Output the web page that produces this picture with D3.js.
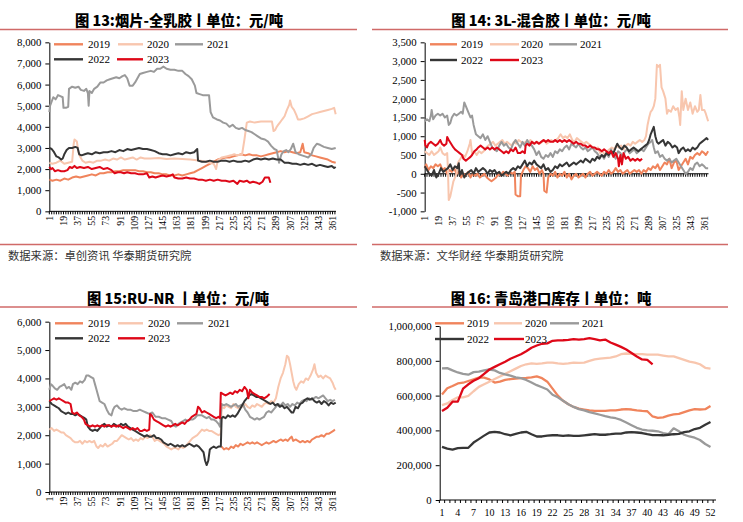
<!DOCTYPE html>
<html><head><meta charset="utf-8">
<script src="https://cdn.jsdelivr.net/npm/d3@7"></script>
<style>
html,body{margin:0;padding:0;background:#fff;}
svg{display:block;}
</style></head><body>
<svg id="c" width="743" height="522"></svg>
<script>
const years = ["2019","2020","2021","2022","2023"];
const colors = {"2019":"#f0845c","2020":"#f8c6ae","2021":"#9a9a9a","2022":"#363636","2023":"#de0818"};

// ---------- Panel 13: 烟片-全乳胶 (day, 元/吨) ----------
const p13_2019 = [[1,1500],[5,1450],[10,1500],[15,1450],[20,1550],[25,1500],[30,1600],[35,1650],[40,1600],[45,1650],[50,1700],[55,1750],[60,1700],[65,1800],[70,1800],[75,1850],[80,1850],[85,1900],[90,1900],[95,1950],[100,1950],[105,1950],[110,1950],[115,1900],[120,1900],[125,1850],[130,1850],[135,1800],[140,1800],[145,1750],[150,1750],[155,1700],[160,1700],[165,1750],[170,1700],[175,1750],[180,1800],[185,1850],[190,1950],[195,2050],[200,2150],[205,2250],[210,2350],[215,2450],[220,2500],[225,2550],[230,2550],[235,2600],[240,2650],[245,2700],[250,2650],[255,2700],[260,2650],[265,2650],[270,2600],[275,2650],[280,2700],[285,2750],[290,2800],[295,2850],[300,2800],[305,2850],[310,2800],[315,2750],[320,2800],[323,3200],[325,2800],[330,2750],[335,2650],[340,2600],[345,2550],[350,2500],[355,2450],[360,2350],[365,2300]];
const p13_2020 = [[1,2300],[5,2250],[10,2300],[15,2400],[20,2250],[25,2300],[30,2350],[32,3200],[33,3400],[36,3300],[38,2800],[40,2600],[43,2400],[47,2300],[52,2350],[57,2300],[62,2400],[67,2400],[72,2450],[77,2400],[82,2500],[87,2450],[92,2550],[97,2450],[102,2500],[107,2550],[112,2450],[117,2550],[122,2500],[130,2500],[140,2520],[150,2480],[160,2500],[170,2480],[180,2450],[188,2420],[195,2380],[200,2350],[205,2300],[210,2250],[213,2000],[215,2400],[220,2550],[226,2600],[232,2650],[236,2700],[240,2650],[246,2700],[249,3400],[252,4200],[256,4250],[262,4200],[270,4250],[278,4250],[284,4250],[286,3800],[288,3850],[290,4000],[292,4100],[294,4200],[296,4300],[298,4400],[300,4500],[303,4800],[306,5050],[307,5250],[309,4950],[312,4800],[315,4550],[317,4350],[320,4350],[325,4400],[330,4500],[335,4600],[340,4650],[345,4700],[350,4750],[355,4800],[360,4850],[363,4900],[365,4600]];
const p13_2021 = [[1,4700],[2,5000],[4,5200],[6,5400],[9,5300],[12,5500],[15,5450],[18,5400],[19,4900],[22,4900],[25,4950],[26,5800],[30,5900],[34,5850],[38,5900],[41,5750],[45,5700],[48,5800],[50,5600],[51,5000],[52,5700],[55,5600],[58,5800],[62,5900],[66,6100],[70,6100],[74,6200],[78,6250],[82,6300],[86,6350],[90,6300],[94,6400],[97,6450],[100,6300],[103,5950],[107,5950],[110,6100],[113,6300],[116,6500],[120,6550],[125,6600],[130,6650],[134,6600],[138,6750],[142,6750],[146,6850],[150,6750],[155,6700],[160,6700],[165,6650],[170,6650],[174,6500],[178,6400],[182,6250],[186,5950],[188,5600],[192,5550],[196,5500],[200,5500],[204,5500],[206,4700],[209,4450],[214,4350],[218,4300],[222,4200],[226,4150],[230,4000],[234,4100],[238,3950],[242,3900],[246,3950],[250,3850],[254,3800],[258,3750],[262,3650],[266,3550],[270,3450],[275,3400],[279,3300],[283,3100],[287,2950],[290,2900],[293,2300],[296,2700],[299,2850],[302,2900],[305,2800],[308,2950],[311,3200],[314,2800],[318,2700],[322,2650],[326,2600],[330,2550],[334,2700],[337,3000],[341,3200],[345,3150],[350,3050],[355,3000],[360,2950],[365,3000]];
const p13_2022 = [[1,3000],[4,2950],[7,2800],[10,2600],[13,2550],[16,2450],[18,2500],[20,2700],[23,2900],[26,3000],[30,3000],[34,3050],[37,3000],[39,2700],[42,2650],[46,2700],[50,2750],[55,2700],[60,2800],[65,2750],[70,2800],[75,2800],[80,2850],[85,2800],[90,2900],[95,2850],[100,2950],[105,2900],[110,2950],[115,3000],[120,2950],[125,2950],[130,2900],[135,2850],[140,2750],[145,2700],[150,2700],[155,2650],[160,2700],[165,2750],[170,2700],[175,2800],[180,2750],[185,2800],[189,2950],[190,2400],[195,2350],[200,2350],[205,2400],[210,2350],[215,2350],[220,2400],[225,2400],[230,2350],[235,2400],[240,2350],[245,2350],[250,2400],[255,2350],[260,2450],[265,2500],[270,2450],[275,2500],[280,2450],[285,2500],[290,2450],[295,2450],[300,2300],[305,2300],[310,2250],[315,2250],[320,2200],[325,2250],[330,2200],[335,2250],[340,2150],[345,2200],[350,2150],[355,2100],[360,2150],[363,2050],[365,2100]];
const p13_2023 = [[1,2100],[3,2000],[5,2050],[8,1900],[12,1950],[16,1900],[20,1900],[24,1950],[27,2100],[30,2050],[33,2150],[36,2050],[40,2100],[45,2050],[50,2100],[55,2000],[60,2050],[65,2100],[70,2000],[75,2050],[80,1950],[84,1800],[88,1850],[92,1850],[96,1800],[100,1850],[105,1800],[110,1800],[115,1750],[120,1750],[125,1800],[128,1600],[132,1650],[136,1600],[140,1650],[145,1700],[150,1650],[155,1700],[158,1750],[160,1600],[165,1550],[170,1550],[175,1600],[180,1550],[185,1550],[190,1500],[195,1500],[200,1450],[205,1500],[210,1450],[215,1500],[220,1450],[225,1450],[230,1400],[235,1450],[240,1300],[243,1450],[248,1400],[252,1450],[256,1350],[260,1400],[265,1350],[268,1300],[272,1400],[275,1600],[280,1600],[282,1350]];

// ---------- Panel 14: 3L-混合胶 ----------
const p14_2019 = [[1,150],[3,250],[6,100],[9,200],[12,150],[15,250],[18,200],[21,250],[24,100],[27,150],[30,0],[33,100],[36,50],[39,150],[42,0],[45,50],[48,-100],[51,0],[54,-50],[57,50],[60,-100],[63,0],[66,-50],[69,0],[72,-100],[75,-50],[78,0],[81,-100],[84,-150],[87,-200],[90,-150],[93,-100],[96,0],[99,-50],[102,50],[105,0],[108,-50],[111,50],[114,0],[117,50],[118,-550],[121,-600],[124,-600],[125,-50],[128,100],[131,200],[134,150],[137,50],[140,200],[143,100],[146,150],[149,0],[152,100],[154,0],[155,-450],[158,-500],[160,-100],[163,0],[166,-50],[169,50],[172,-100],[175,0],[178,-50],[181,50],[184,-100],[187,0],[190,-150],[193,-50],[196,0],[199,-100],[202,-50],[205,0],[208,-100],[211,0],[214,50],[217,-50],[220,0],[223,50],[226,0],[229,-50],[232,50],[235,0],[238,100],[241,0],[244,50],[247,150],[250,50],[253,100],[256,0],[259,50],[262,100],[265,0],[268,50],[271,100],[274,50],[277,100],[280,0],[283,100],[286,50],[289,150],[292,100],[295,200],[298,150],[301,250],[304,100],[307,200],[310,300],[313,250],[316,400],[319,150],[322,300],[325,350],[328,100],[331,200],[334,300],[337,400],[340,250],[343,450],[346,400],[349,500],[352,550],[355,500],[358,600],[361,550],[363,500],[366,600]];
const p14_2020 = [[1,600],[4,550],[7,500],[10,600],[13,500],[16,550],[19,600],[21,700],[24,550],[27,500],[30,550],[31,100],[32,-700],[34,-600],[36,-400],[38,-200],[40,-100],[42,0],[44,300],[47,400],[50,500],[53,450],[56,600],[59,800],[60,900],[62,550],[65,600],[68,500],[71,600],[74,550],[77,600],[80,700],[83,750],[86,800],[89,850],[92,750],[95,800],[98,850],[101,900],[104,800],[107,850],[110,800],[113,750],[116,850],[119,800],[122,900],[125,850],[128,800],[131,850],[134,800],[137,900],[140,850],[143,800],[146,850],[149,800],[152,850],[155,900],[158,800],[161,850],[164,900],[167,850],[170,900],[173,950],[176,1050],[179,950],[182,1000],[185,950],[188,1050],[191,900],[194,850],[197,950],[200,900],[203,850],[206,800],[209,850],[212,800],[215,750],[218,700],[221,650],[224,700],[227,550],[230,600],[233,500],[236,600],[239,650],[242,700],[245,650],[248,750],[251,700],[254,750],[257,650],[260,750],[263,800],[266,750],[269,850],[272,800],[275,850],[278,900],[281,850],[284,900],[286,1000],[288,1300],[290,1500],[292,1650],[294,1700],[296,1800],[298,2000],[300,2900],[302,2850],[304,2900],[306,2300],[308,2200],[311,2000],[313,1600],[315,1700],[318,1650],[321,1800],[324,1700],[327,1750],[329,1500],[330,1300],[332,2200],[334,1700],[337,2000],[340,1700],[343,1900],[346,1600],[349,1800],[352,1650],[354,1700],[356,2100],[358,1700],[361,1700],[363,1600],[366,1400]];
const p14_2021 = [[1,1400],[4,1450],[7,1400],[9,1550],[10,1700],[12,1450],[15,1550],[18,1600],[21,1550],[24,1600],[27,1500],[30,1550],[32,1300],[34,1350],[36,1500],[39,1600],[42,1550],[45,1600],[48,1650],[50,1600],[52,1900],[54,1800],[57,1650],[60,1500],[62,1550],[64,1300],[67,1050],[70,1000],[73,950],[76,1050],[79,900],[82,1000],[85,850],[88,700],[91,650],[94,600],[97,750],[100,850],[103,750],[106,800],[109,700],[112,650],[115,800],[118,900],[121,800],[124,700],[127,850],[130,750],[133,900],[136,800],[139,750],[142,650],[145,500],[148,600],[151,450],[154,400],[157,500],[160,450],[163,550],[166,450],[169,600],[172,550],[175,650],[178,600],[181,700],[184,750],[187,650],[190,800],[193,750],[196,700],[199,800],[202,700],[205,650],[208,700],[211,600],[214,650],[217,700],[220,600],[223,550],[226,450],[229,500],[232,400],[235,550],[238,450],[241,650],[244,500],[247,400],[250,600],[253,550],[256,450],[259,600],[262,650],[265,550],[268,600],[271,650],[274,550],[277,600],[280,650],[283,600],[286,700],[289,800],[292,850],[294,900],[296,700],[298,550],[301,600],[304,450],[307,500],[310,400],[313,350],[316,400],[319,300],[322,350],[325,400],[328,300],[331,200],[334,100],[337,0],[340,50],[343,150],[346,100],[349,250],[352,300],[355,200],[358,250],[361,200],[363,150],[366,150]];
const p14_2022 = [[1,200],[4,100],[7,0],[10,-50],[13,100],[16,-100],[19,0],[22,150],[25,50],[28,100],[31,150],[34,250],[37,100],[40,200],[43,150],[45,280],[46,-50],[49,100],[52,-100],[55,0],[58,50],[61,100],[64,0],[67,150],[70,50],[73,100],[76,150],[79,100],[82,0],[85,100],[88,50],[91,100],[94,0],[97,50],[100,-50],[103,0],[106,50],[109,0],[112,100],[115,150],[118,100],[121,200],[124,150],[127,250],[130,350],[133,200],[136,300],[139,250],[142,350],[145,250],[148,200],[151,150],[154,250],[157,100],[160,150],[163,50],[166,100],[169,200],[172,150],[175,250],[178,200],[181,250],[184,300],[187,200],[190,250],[193,300],[196,250],[199,300],[202,350],[205,300],[208,400],[211,350],[214,300],[217,400],[220,350],[223,450],[226,400],[229,500],[232,450],[235,550],[238,500],[241,600],[244,550],[247,700],[249,800],[252,700],[255,650],[258,750],[261,700],[264,600],[267,650],[270,700],[273,650],[276,600],[279,650],[282,700],[285,750],[288,800],[290,900],[292,1050],[294,1150],[296,1250],[298,1000],[300,850],[302,800],[305,850],[308,900],[311,750],[314,850],[317,800],[320,700],[323,750],[326,700],[328,550],[331,650],[334,700],[337,600],[340,650],[343,600],[346,700],[349,650],[352,700],[355,800],[358,850],[361,900],[364,950],[366,900]];
const p14_2023 = [[1,900],[2,750],[4,700],[6,800],[9,850],[12,800],[15,750],[18,800],[21,900],[23,800],[26,750],[29,800],[30,980],[32,900],[35,800],[38,700],[40,650],[43,600],[46,550],[49,500],[51,400],[54,350],[57,400],[60,450],[62,500],[65,600],[68,650],[70,700],[73,750],[76,700],[79,650],[82,700],[85,650],[88,700],[91,650],[94,700],[97,650],[100,600],[103,550],[106,600],[109,550],[112,650],[115,600],[118,700],[121,550],[124,550],[127,600],[130,550],[131,750],[133,800],[136,750],[139,850],[142,800],[145,850],[148,800],[151,850],[154,900],[157,850],[160,900],[163,850],[166,850],[169,900],[172,850],[175,900],[178,850],[181,900],[184,850],[187,900],[190,850],[193,800],[196,850],[199,800],[202,800],[205,750],[208,750],[211,700],[214,750],[217,700],[220,700],[223,650],[226,650],[229,600],[232,650],[235,600],[238,550],[241,600],[244,450],[247,550],[250,400],[251,200],[253,500],[255,250],[257,550],[260,400],[263,450],[266,350],[269,400],[272,350],[275,400],[278,350],[281,400]];

// ---------- Panel 15: RU-NR ----------
const p15_2019 = [[220,1600],[223,1500],[226,1550],[229,1500],[232,1600],[235,1550],[238,1650],[241,1600],[244,1700],[247,1650],[250,1700],[253,1750],[256,1700],[259,1750],[262,1700],[265,1750],[268,1700],[271,1650],[274,1700],[277,1750],[280,1700],[283,1750],[286,1800],[289,1750],[292,1800],[295,1850],[298,1800],[301,1850],[304,1800],[307,1900],[309,1950],[311,1800],[314,1850],[317,1800],[320,1750],[323,1800],[326,1750],[329,1800],[332,1750],[335,1850],[338,1900],[341,1950],[344,1950],[347,2000],[350,1950],[353,2050],[356,2050],[359,2100],[362,2150],[364,2200]];
const p15_2020 = [[1,2200],[4,2250],[7,2150],[10,2200],[13,2150],[16,2100],[19,2100],[22,2000],[25,1950],[28,1900],[31,1800],[34,1750],[37,1750],[40,1800],[43,1700],[46,1800],[49,1750],[52,1800],[55,1750],[58,1800],[61,1600],[63,1550],[66,1650],[69,1600],[72,1700],[75,1600],[78,1650],[81,1700],[84,1800],[87,1800],[90,1900],[93,2000],[96,1950],[99,1900],[102,1850],[105,1900],[108,1800],[111,1850],[114,1800],[117,1900],[120,1850],[123,1950],[126,1900],[129,2000],[132,1950],[135,1800],[138,1850],[141,1800],[144,1750],[147,1700],[150,1600],[153,1550],[156,1500],[159,1550],[162,1550],[165,1500],[168,1600],[171,1550],[174,1600],[177,1700],[180,1800],[183,1900],[186,1950],[189,2000],[192,2100],[195,2200],[198,2150],[201,2200],[204,2150],[207,2150],[210,2100],[213,2050],[216,2000],[219,2050],[220,3000],[223,2950],[226,3050],[229,3000],[232,2950],[235,3100],[238,3000],[241,2950],[244,3050],[247,3000],[250,3100],[253,3000],[256,2950],[259,3050],[262,3000],[265,3100],[268,3050],[271,3000],[274,3100],[277,3150],[280,3100],[283,3200],[286,3150],[289,3300],[292,3700],[295,4000],[298,4200],[301,4500],[303,4800],[305,4750],[307,4500],[309,4200],[311,3900],[313,3700],[315,3600],[318,3800],[321,3900],[324,3850],[327,4000],[330,3950],[333,4100],[336,4300],[338,4500],[340,4200],[343,4050],[346,4100],[349,4000],[352,4100],[355,4050],[358,4000],[361,3850],[363,3700],[365,3600]];
const p15_2021 = [[1,3600],[3,3800],[5,3750],[8,3650],[11,3600],[14,3700],[17,3750],[20,3800],[23,3650],[26,3700],[29,3600],[31,3800],[34,3850],[37,3800],[40,3900],[43,3850],[46,3950],[48,4100],[51,4100],[54,4050],[57,4000],[59,3800],[61,3600],[63,3400],[65,3200],[68,3150],[71,3100],[74,2900],[77,2750],[80,2700],[82,2900],[84,3000],[87,3050],[90,2950],[93,2900],[96,2950],[100,2900],[104,2900],[108,2850],[112,2850],[116,2900],[120,2850],[124,2800],[128,2750],[132,2800],[136,2650],[140,2650],[144,2600],[148,2600],[152,2550],[156,2500],[159,2350],[162,2300],[165,2400],[168,2450],[171,2500],[174,2550],[177,2500],[180,2550],[183,2550],[186,2600],[189,2700],[192,2700],[195,2700],[198,2650],[201,2600],[204,2650],[207,2550],[210,2550],[213,2500],[216,2400],[218,2300],[220,3100],[223,3050],[226,3100],[229,3050],[232,3000],[235,3050],[238,3100],[241,3000],[244,3050],[247,3100],[250,2900],[253,2800],[256,2650],[259,2600],[262,2550],[265,2600],[268,2550],[271,2600],[274,2650],[277,2800],[280,2850],[283,2800],[286,2900],[289,3000],[292,3100],[295,3050],[298,3150],[301,3050],[304,3100],[307,3000],[310,3100],[313,3050],[316,3150],[319,3100],[322,3200],[325,3250],[328,3200],[331,3300],[334,3250],[337,3300],[340,3350],[343,3300],[346,3350],[349,3400],[352,3300],[355,3200],[358,3250],[361,3200],[364,3250]];
const p15_2022 = [[1,3200],[4,3100],[7,3050],[10,3000],[13,2950],[16,2850],[19,2800],[22,2750],[25,2800],[28,2750],[31,2750],[34,2700],[37,2750],[40,2700],[43,2650],[46,2600],[48,2550],[50,2300],[53,2200],[56,2150],[59,2200],[62,2150],[65,2250],[68,2350],[71,2400],[74,2300],[77,2350],[80,2300],[83,2400],[86,2350],[89,2300],[92,2400],[95,2350],[98,2400],[101,2300],[104,2250],[107,2200],[110,2150],[113,2100],[116,2050],[119,2000],[122,1950],[125,2000],[128,1950],[131,1950],[134,2000],[137,1900],[140,1900],[143,1850],[146,1750],[149,1700],[152,1650],[155,1700],[158,1650],[161,1600],[164,1650],[167,1600],[170,1650],[173,1600],[176,1650],[179,1700],[182,1650],[185,1600],[188,1650],[191,1600],[194,1500],[197,1400],[199,1100],[201,950],[203,1100],[205,1500],[207,1550],[210,1600],[213,1550],[216,1600],[219,1600],[220,2600],[222,2650],[225,2600],[228,2700],[231,2650],[234,2700],[237,2650],[240,2750],[243,2900],[246,3050],[249,3200],[252,3300],[255,3400],[258,3450],[261,3400],[264,3350],[267,3350],[270,3300],[273,3250],[276,3200],[279,3150],[282,3100],[285,3150],[288,3050],[291,3100],[294,3000],[297,3050],[300,2950],[303,3000],[306,2900],[309,2800],[311,2800],[314,3000],[317,2950],[320,3100],[323,3150],[326,3250],[329,3300],[332,3250],[335,3300],[338,3200],[341,3150],[344,3200],[347,3100],[350,3200],[353,3150],[356,3050],[359,3150],[362,3100],[365,3150]];
const p15_2023 = [[1,3200],[4,3250],[7,3300],[10,3250],[13,3300],[16,3250],[19,3200],[22,3150],[25,3150],[28,3100],[30,2800],[33,2750],[36,2800],[39,2700],[42,2650],[45,2550],[47,2400],[50,2350],[53,2300],[56,2350],[59,2300],[62,2350],[65,2300],[68,2350],[71,2300],[74,2350],[77,2350],[80,2300],[83,2350],[86,2300],[89,2350],[92,2300],[95,2250],[98,2300],[101,2250],[104,2200],[107,2250],[110,2200],[113,2250],[116,2150],[119,2150],[122,2200],[125,2150],[128,2200],[129,2750],[131,2700],[134,2550],[137,2500],[140,2450],[143,2400],[146,2350],[149,2300],[152,2350],[155,2300],[158,2350],[161,2400],[164,2350],[167,2400],[170,2450],[173,2400],[176,2500],[179,2550],[182,2650],[185,2700],[188,2750],[190,3000],[192,2950],[195,2800],[198,2850],[201,2800],[204,2750],[207,2700],[210,2650],[213,2600],[216,2650],[218,2600],[219,3500],[222,3450],[225,3400],[228,3450],[231,3500],[234,3450],[237,3550],[240,3500],[243,3600],[246,3550],[249,3700],[252,3600],[254,3300],[256,3600],[259,3500],[262,3450],[265,3400],[268,3350],[271,3350],[274,3300],[277,3350],[279,3400],[281,3450]];

// ---------- Panel 16: 青岛港口库存 (week, 吨) ----------
const weeks = d3.range(1, 53);
const weekLabels = [1,4,7,10,13,16,19,22,25,28,31,34,37,40,43,46,49,52];
const p16_2019 = [607000,642000,655000,670000,674000,684000,693000,703000,703000,693000,675000,680000,690000,695000,698000,700000,702000,705000,710000,700000,680000,640000,600000,570000,550000,535000,525000,520000,515000,512000,512000,512000,515000,515000,520000,522000,520000,515000,512000,510000,480000,472000,475000,485000,492000,495000,505000,515000,522000,520000,522000,540000];
const p16_2020 = [545000,555000,575000,590000,590000,598000,625000,650000,665000,680000,695000,710000,725000,740000,755000,770000,780000,785000,782000,785000,790000,790000,785000,782000,785000,790000,788000,790000,800000,808000,812000,815000,818000,825000,838000,842000,840000,838000,838000,835000,835000,835000,830000,825000,825000,815000,805000,795000,790000,780000,760000,755000];
const p16_2021 = [757000,758000,745000,733000,725000,720000,735000,738000,745000,750000,745000,730000,722000,715000,705000,700000,690000,675000,660000,648000,635000,605000,590000,570000,550000,535000,522000,515000,505000,498000,490000,482000,475000,470000,460000,445000,430000,415000,405000,400000,398000,395000,385000,378000,412000,395000,375000,365000,358000,345000,322000,305000];
const p16_2022 = [305000,295000,290000,298000,300000,300000,330000,350000,370000,388000,392000,388000,378000,372000,380000,388000,392000,378000,365000,365000,370000,372000,372000,368000,372000,368000,368000,372000,375000,378000,375000,375000,378000,382000,382000,388000,390000,388000,385000,378000,373000,373000,372000,375000,378000,380000,390000,395000,408000,415000,432000,448000];
const p16_2023 = [512000,530000,565000,565000,640000,665000,685000,700000,725000,750000,765000,780000,795000,812000,825000,838000,855000,875000,888000,898000,900000,915000,917000,918000,920000,925000,922000,925000,930000,925000,918000,922000,905000,893000,880000,865000,845000,825000,808000,805000,780000];

const dayTicks = d3.range(1, 366, 3);
const dayLabels = d3.range(1, 362, 18);
const yT13 = d3.range(0, 8001, 1000);
const yT14 = d3.range(-1000, 3501, 500);
const yT15 = d3.range(0, 6001, 1000);
const yT16 = d3.range(0, 1000001, 200000);

const fmt = d3.formatLocale({decimal:".",thousands:",",grouping:[3],currency:["",""],minus:"-"}).format(",");
const svg = d3.select("#c");
const SERIF = '"Liberation Serif","Times New Roman",serif';
const CJK = '"Noto Sans CJK SC","Noto Sans",sans-serif';

function drawPanel(c) {
  const g = svg.append("g");
  g.append("text").attr("x", c.titleX).attr("y", c.titleY).attr("text-anchor","middle")
    .attr("font-family", CJK).attr("font-weight", 900).attr("font-size", 14.3).attr("fill","#000").text(c.title);
  g.append("line").attr("x1", c.ruleX[0]).attr("x2", c.ruleX[1]).attr("y1", c.ruleY).attr("y2", c.ruleY)
    .attr("stroke", "#d06a68").attr("stroke-width", 1.3);
  if (c.bottomRuleY) {
    g.append("line").attr("x1", c.ruleX[0]).attr("x2", c.ruleX[1]).attr("y1", c.bottomRuleY).attr("y2", c.bottomRuleY)
      .attr("stroke", "#d06a68").attr("stroke-width", 1.3);
    g.append("text").attr("x", c.ruleX[0] + 8).attr("y", c.bottomRuleY + 15).attr("font-family", CJK)
      .attr("font-size", 11.3).attr("fill", "#333").text(c.source);
  }
  const x = d3.scaleLinear().domain(c.xDomain).range(c.xRange);
  const y = d3.scaleLinear().domain(c.yDomain).range(c.yRange);

  const ya = g.append("g").attr("transform", `translate(${c.axisX},0)`)
    .call(d3.axisLeft(y).tickValues(c.yTicks).tickSize(4).tickSizeOuter(0).tickPadding(4).tickFormat(fmt));
  ya.selectAll("text").attr("font-family", SERIF).attr("font-size", c.yFont).attr("fill", "#000");
  ya.selectAll("line,path").attr("stroke", "#000");

  const y0 = y(c.xAxisAt);
  g.append("line").attr("x1", c.axisX).attr("x2", c.axisEnd).attr("y1", y0).attr("y2", y0).attr("stroke", "#000");
  g.selectAll(null).data(c.tickVals).enter().append("line")
    .attr("x1", d => x(d)).attr("x2", d => x(d)).attr("y1", y0).attr("y2", y0 + 3).attr("stroke", "#000");
  const yb = y(c.yDomain[0]);
  if (c.rotate) {
    g.selectAll(null).data(c.labels).enter().append("text")
      .attr("transform", d => `translate(${x(d)},${yb + 4.5}) rotate(-90)`)
      .attr("text-anchor", "end").attr("dy", "0.35em")
      .attr("font-family", SERIF).attr("font-size", 9.8).attr("fill", "#000").text(d => d);
  } else {
    g.selectAll(null).data(c.labels).enter().append("text")
      .attr("x", d => x(d)).attr("y", yb + 15.5).attr("text-anchor", "middle")
      .attr("font-family", SERIF).attr("font-size", 10).attr("fill", "#000").text(d => d);
  }

  const line = d3.line().x(d => x(d[0])).y(d => y(d[1]));
  years.forEach(yr => {
    g.append("path").datum(c.series[yr]).attr("d", line).attr("fill", "none")
      .attr("stroke", colors[yr]).attr("stroke-width", c.lw).attr("stroke-linejoin", "round");
  });

  c.legend.forEach((L, i) => {
    const yr = years[i];
    g.append("line").attr("x1", L[0]).attr("x2", L[1]).attr("y1", L[2]).attr("y2", L[2])
      .attr("stroke", colors[yr]).attr("stroke-width", 2.4);
    g.append("text").attr("x", L[3]).attr("y", L[2] + 3.8).attr("font-family", SERIF)
      .attr("font-size", 11).attr("fill", "#000").text(yr);
  });
}

const pair = (arr) => arr.map((v, i) => [weeks[i], v]);

drawPanel({
  title: "图 13:烟片-全乳胶丨单位：元/吨", titleX: 179, titleY: 25.5, ruleX: [0, 357], ruleY: 29.5,
  bottomRuleY: 244.5, source: "数据来源：卓创资讯 华泰期货研究院",
  xDomain: [1, 365], xRange: [49.33, 335.7], yDomain: [0, 8000], yRange: [211.33, 42.33],
  yTicks: yT13, yFont: 10.8, axisX: 49.33, axisEnd: 336, xAxisAt: 0, tickVals: dayTicks, labels: dayLabels, rotate: true, lw: 2,
  series: {"2019": p13_2019, "2020": p13_2020, "2021": p13_2021, "2022": p13_2022, "2023": p13_2023},
  legend: [[54,83,44.3,88],[118,143,44.3,147],[175,203,44.3,207],[54,83,59.3,88],[117,143,59.3,147]]
});
drawPanel({
  title: "图 14: 3L-混合胶丨单位：元/吨", titleX: 551, titleY: 25.5, ruleX: [372, 728], ruleY: 29.5,
  bottomRuleY: 244.5, source: "数据来源：文华财经 华泰期货研究院",
  xDomain: [1, 366], xRange: [424.67, 708.15], yDomain: [-1000, 3500], yRange: [211.33, 42.33],
  yTicks: yT14, yFont: 10.8, axisX: 424.67, axisEnd: 708.5, xAxisAt: 0, tickVals: dayTicks, labels: dayLabels, rotate: true, lw: 2,
  series: {"2019": p14_2019, "2020": p14_2020, "2021": p14_2021, "2022": p14_2022, "2023": p14_2023},
  legend: [[430,457,44.3,461],[490,519,44.3,521],[549,577,44.3,580],[430,457,60,461],[490,519,60,521]]
});
drawPanel({
  title: "图 15:RU-NR 丨单位：元/吨", titleX: 178, titleY: 303.5, ruleX: [0, 357], ruleY: 307,
  xDomain: [1, 365], xRange: [49.33, 335.7], yDomain: [0, 6000], yRange: [492, 321.67],
  yTicks: yT15, yFont: 10.8, axisX: 49.33, axisEnd: 336, xAxisAt: 0, tickVals: dayTicks, labels: dayLabels, rotate: true, lw: 2,
  series: {"2019": p15_2019, "2020": p15_2020, "2021": p15_2021, "2022": p15_2022, "2023": p15_2023},
  legend: [[55,83,323.3,88],[118,143,323.3,148],[177,203,323.3,208],[55,83,338.3,88],[118,145,338.3,148]]
});
drawPanel({
  title: "图 16: 青岛港口库存丨单位：吨", titleX: 551, titleY: 303.5, ruleX: [372, 728], ruleY: 307,
  xDomain: [1, 52], xRange: [442, 710.5], yDomain: [0, 1000000], yRange: [500, 326],
  yTicks: yT16, yFont: 10.8, axisX: 439.7, axisEnd: 716, xAxisAt: 0,
  tickVals: d3.range(0.5, 53, 1), labels: weekLabels, rotate: false, lw: 2.3,
  series: {"2019": pair(p16_2019), "2020": pair(p16_2020), "2021": pair(p16_2021), "2022": pair(p16_2022), "2023": pair(p16_2023)},
  legend: [[435,464,323.3,467],[494,522,323.3,525],[550,579,323.3,582],[435,464,339,467],[494,524,339,525]]
});
</script>
</body></html>
